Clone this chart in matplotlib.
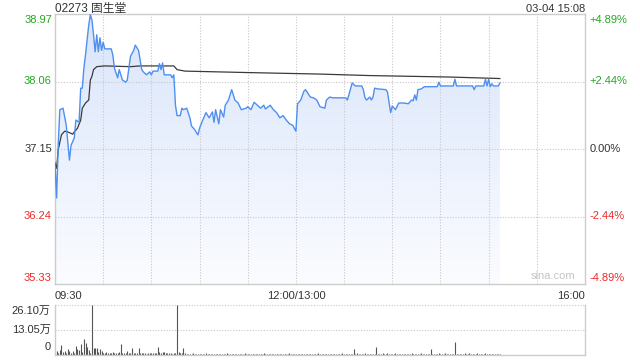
import numpy as np
import matplotlib
matplotlib.use("Agg")
import matplotlib.pyplot as plt
from matplotlib.colors import LinearSegmentedColormap
from matplotlib.patches import Polygon

plt.rcParams['font.family'] = ['Liberation Sans', 'Noto Sans CJK SC', 'DejaVu Sans']

# ── Data (minutes since 09:30, lunch break removed) ──────────────────────────
prev_close = 37.15
y_ticks = [35.33, 36.24, 37.15, 38.06, 38.97]
pct_ticks = ["-4.89%", "-2.44%", "0.00%", "+2.44%", "+4.89%"]
x_labels = ["09:30", "12:00/13:00", "16:00"]

price_t = [0, 1, 2, 3, 5, 7, 9, 10, 12, 13, 15, 16, 17, 18, 19, 20, 21, 22, 23, 24,
           25, 26, 27, 28, 29, 30, 31, 35, 36, 37, 39, 40, 42, 44, 45, 47, 49, 50, 52, 54,
           55, 57, 59, 60, 61, 64, 65, 66, 67, 68, 72, 73, 74, 75, 76, 78, 79, 80, 82, 84,
           85, 87, 89, 90, 92, 94, 96, 98, 99, 100, 102, 103, 105, 106, 108, 110, 112, 114, 116, 119,
           120, 122, 124, 126, 128, 130, 131, 134, 136, 138, 140, 142, 144, 146, 148, 149, 150, 151, 153, 155,
           156, 159, 161, 163, 165, 168, 169, 171, 173, 177, 181, 182, 183, 185, 187, 191, 192, 193, 194, 196,
           197, 198, 199, 201, 206, 207, 209, 210, 212, 214, 217, 220, 222, 223, 224, 225, 226, 228, 230, 238,
           239, 240, 248, 249, 250, 260, 261, 262, 267, 268, 269, 270, 271, 272, 273, 276, 277]
price = [36.96, 36.49, 37.20, 37.68, 37.70, 37.47, 37.00, 37.20, 37.30, 37.54, 37.51, 37.97, 37.97, 38.24, 38.42, 38.62, 38.82, 38.96, 38.89, 38.69,
         38.46, 38.69, 38.46, 38.65, 38.48, 38.59, 38.50, 38.50, 38.42, 38.24, 38.11, 38.22, 38.08, 38.05, 38.08, 38.40, 38.48, 38.55, 38.48, 38.22,
         38.19, 38.15, 38.19, 38.15, 38.20, 38.20, 38.30, 38.22, 38.31, 38.15, 38.15, 38.11, 38.15, 37.74, 37.60, 37.60, 37.70, 37.68, 37.70, 37.57,
         37.46, 37.41, 37.34, 37.43, 37.54, 37.64, 37.57, 37.65, 37.51, 37.68, 37.49, 37.68, 37.58, 37.74, 37.81, 37.95, 37.81, 37.77, 37.68, 37.70,
         37.72, 37.68, 37.78, 37.74, 37.70, 37.74, 37.69, 37.74, 37.68, 37.64, 37.57, 37.60, 37.54, 37.49, 37.47, 37.43, 37.39, 37.76, 37.81, 37.93,
         37.95, 37.85, 37.84, 37.81, 37.72, 37.70, 37.81, 37.85, 37.84, 37.84, 37.84, 37.81, 37.88, 38.04, 38.00, 38.00, 37.95, 37.84, 37.81, 37.85,
         37.81, 37.85, 37.97, 37.96, 37.95, 37.92, 37.64, 37.73, 37.68, 37.77, 37.77, 37.76, 37.81, 37.80, 37.88, 37.81, 37.95, 37.96, 37.99, 37.99,
         38.05, 38.00, 38.00, 38.09, 38.00, 38.00, 37.95, 38.00, 38.00, 38.09, 38.00, 38.09, 37.99, 38.03, 38.00, 38.00, 38.04]

avg_t = [0, 1, 2, 4, 6, 8, 11, 12, 14, 16, 17, 19, 21, 22, 23, 24, 26, 31, 47, 53,
         74, 76, 81, 121, 165, 196, 246, 277]
avg_price = [36.96, 36.89, 37.14, 37.34, 37.39, 37.38, 37.35, 37.38, 37.43, 37.54, 37.70, 37.77, 37.81, 38.08, 38.13, 38.22, 38.26, 38.27, 38.26, 38.27,
             38.27, 38.22, 38.20, 38.18, 38.16, 38.14, 38.12, 38.10]

# volume in 万 shares, one value per minute
volume = [
    1.9, 2.2, 1.0, 2.6, 5.3, 1.5, 1.9, 1.0, 3.1, 2.2,
    1.2, 2.2, 1.0, 4.8, 3.1, 2.6, 5.6, 1.5, 8.5, 6.5,
    4.3, 2.6, 1.2, 26.1, 3.6, 3.6, 3.6, 1.5, 3.1, 1.9,
    1.2, 1.0, 1.4, 0.8, 1.2, 1.0, 1.5, 0.9, 1.3, 1.1,
    1.6, 5.6, 1.0, 1.2, 0.8, 1.9, 1.1, 1.0, 3.6, 1.2,
    0.9, 1.0, 3.9, 1.2, 0.8, 1.0, 1.1, 0.7, 1.2, 0.9,
    1.0, 0.8, 1.3, 1.0, 4.3, 1.5, 1.2, 1.8, 1.6, 1.0,
    1.1, 0.9, 0.8, 0.7, 1.0, 0.8, 26.1, 1.5, 1.0, 0.9,
    3.6, 0.8, 0.6, 0.7, 0.5, 0.6, 0.8, 0.6, 0.5, 0.7,
    0.6, 0.5, 0.7, 0.6, 0.8, 0.5, 0.6, 0.7, 0.5, 0.6,
    0.7, 0.6, 0.5, 0.6, 0.7, 0.5, 0.6, 0.8, 0.6, 0.5,
    0.6, 0.7, 0.5, 0.6, 0.5, 0.7, 0.6, 0.5, 0.8, 0.6,
    0.5, 0.6, 0.7, 0.5, 0.6, 0.6, 0.5, 0.7, 0.6, 0.5,
    0.8, 0.6, 0.5, 0.7, 0.6, 0.5, 0.6, 0.7, 0.5, 0.6,
    0.6, 0.5, 0.7, 0.6, 0.5, 0.6, 0.8, 0.5, 0.6, 0.7,
    0.5, 0.6, 0.7, 0.6, 0.5, 0.6, 0.5, 0.7, 0.6, 0.5,
    0.6, 0.7, 0.5, 0.6, 0.8, 0.5, 0.6, 0.7, 0.6, 0.5,
    0.6, 0.5, 0.7, 0.6, 0.5, 0.6, 0.7, 0.5, 0.6, 1.2,
    0.7, 0.6, 0.5, 0.6, 0.7, 0.6, 3.1, 0.6, 0.8, 0.5,
    0.6, 0.7, 0.6, 1.1, 0.5, 0.6, 0.7, 0.6, 0.5, 0.6,
    4.2, 0.6, 0.7, 0.5, 0.9, 0.6, 0.7, 1.0, 0.6, 0.5,
    0.6, 0.7, 0.8, 0.6, 0.5, 0.7, 0.6, 0.5, 0.6, 0.7,
    0.6, 0.5, 0.8, 0.6, 0.7, 0.5, 0.6, 0.7, 1.2, 0.6,
    0.5, 0.7, 0.6, 0.5, 3.3, 0.6, 0.7, 0.5, 0.6, 0.8,
    0.7, 0.6, 0.5, 0.9, 0.6, 0.7, 0.6, 0.5, 0.6, 6.8,
    0.7, 0.6, 0.5, 0.6, 0.7, 0.8, 0.6, 0.5, 0.9, 0.6,
    0.7, 0.6, 0.5, 1.0, 0.6, 0.7, 0.5, 0.6, 0.8, 0.6,
    0.5, 0.6, 0.7, 0.6, 0.5, 0.6, 0.5, 0.6,
]
vol_ticks = [0, 13.05, 26.10]
vol_labels = ["0", "13.05万", "26.10万"]

# ── Style ────────────────────────────────────────────────────────────────────
GREEN = "#22a822"
RED = "#ee2a2a"
DARK = "#333333"
GRID = "#c8c8c8"
FRAME = "#cccccc"
LINE = "#4f8ff0"
T_END = 330

fig = plt.figure(figsize=(6.4, 3.6), dpi=100)
ax = fig.add_axes([55 / 640, 1 - 284 / 360, 530 / 640, 270 / 360])
axv = fig.add_axes([55 / 640, 1 - 355 / 360, 530 / 640, 50 / 360])

ymin, ymax = y_ticks[0], y_ticks[-1]
ax.set_xlim(0, T_END)
ax.set_ylim(ymin, ymax)

# gradient fill below price line
cmap = LinearSegmentedColormap.from_list("fill", ["#fbfcff", "#d9e5fb"])
grad = np.linspace(0, 1, 256).reshape(-1, 1)
img = ax.imshow(grad, extent=[0, T_END, ymin, ymax], origin="lower", cmap=cmap,
                aspect="auto", zorder=1)
poly_pts = list(zip(price_t, price)) + [(price_t[-1], ymin), (price_t[0], ymin)]
poly = Polygon(poly_pts, closed=True, facecolor="none", edgecolor="none")
ax.add_patch(poly)
img.set_clip_path(poly)

# grid
for v in y_ticks[1:-1]:
    ax.axhline(v, color=GRID, lw=0.8, ls=(0, (1, 1.5)), zorder=2)
for t in range(30, T_END, 30):
    ax.axvline(t, color=GRID, lw=0.8, ls=(0, (1, 1.5)), zorder=2)

ax.plot(price_t, price, color=LINE, lw=1.0, zorder=4)
ax.plot(avg_t, avg_price, color="#3a3a3a", lw=0.9, zorder=3)

for s in ax.spines.values():
    s.set_color(FRAME)
    s.set_linewidth(1.0)
ax.set_xticks([])
ax.set_yticks([])

# left price labels / right percent labels
colors = [RED, RED, DARK, GREEN, GREEN]
for i, (v, c) in enumerate(zip(y_ticks, colors)):
    va = "bottom" if i == 0 else ("top" if i == len(y_ticks) - 1 else "center")
    off = 0.004 if i == 0 else (-0.004 if i == len(y_ticks) - 1 else 0)
    ax.text(-0.006, (v - ymin) / (ymax - ymin) + off, f"{v:.2f}", transform=ax.transAxes,
            ha="right", va=va, fontsize=8, color=c)
    ax.text(1.009, (v - ymin) / (ymax - ymin) + off, pct_ticks[i], transform=ax.transAxes,
            ha="left", va=va, fontsize=8, color=c)

# x labels
ax.text(0, -0.025, x_labels[0], transform=ax.transAxes, ha="left", va="top", fontsize=8, color=DARK)
ax.text(150 / T_END, -0.025, x_labels[1], transform=ax.transAxes, ha="center", va="top", fontsize=8, color=DARK)
ax.text(1, -0.025, x_labels[2], transform=ax.transAxes, ha="right", va="top", fontsize=8, color=DARK)

# title and time
fig.text(55 / 640, 1 - 12 / 360, "02273 固生堂", ha="left", va="baseline", fontsize=8.5, color=DARK)
fig.text(585 / 640, 1 - 12 / 360, "03-04 15:08", ha="right", va="baseline", fontsize=8, color=DARK)
ax.text(0.939, 0.012, "sina.com", transform=ax.transAxes, ha="center", va="bottom",
        fontsize=8, color="#c4c4c4", zorder=5)

# ── Volume panel ─────────────────────────────────────────────────────────────
axv.set_xlim(0, T_END)
axv.set_ylim(0, vol_ticks[-1])
axv.vlines(np.arange(len(volume)), 0, volume, color="#555555", lw=0.8)
for v in vol_ticks[1:]:
    axv.axhline(v, color=GRID, lw=0.8, ls=(0, (1, 1.5)), zorder=0, clip_on=False)
for name, s in axv.spines.items():
    s.set_color(FRAME)
    s.set_linewidth(1.0)
axv.spines["top"].set_visible(False)
axv.set_xticks([])
axv.set_yticks([])
for i, (v, lab) in enumerate(zip(vol_ticks, vol_labels)):
    va = "bottom" if i == 0 else ("top" if i == len(vol_ticks) - 1 else "center")
    off = 0.05 if i == 0 else (-0.02 if i == len(vol_ticks) - 1 else 0)
    axv.text(-0.008, v / vol_ticks[-1] + off, lab, transform=axv.transAxes,
             ha="right", va=va, fontsize=8, color=DARK)

fig.savefig("out.png", dpi=100)
